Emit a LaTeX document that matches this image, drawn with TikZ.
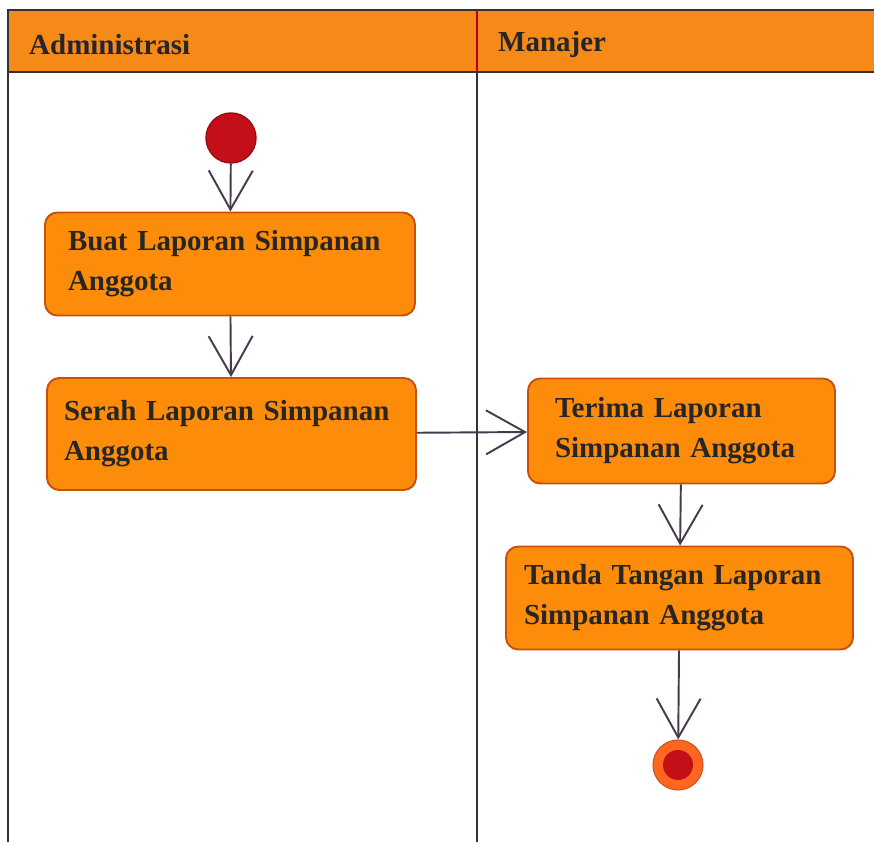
\documentclass[tikz,border=0pt]{standalone}
\usepackage{fontspec}
\setmainfont{Liberation Serif}
\usetikzlibrary{arrows.meta}
\hyphenpenalty=10000
\definecolor{laneorange}{RGB}{246,138,24}
\definecolor{actfill}{RGB}{252,140,10}
\definecolor{actborder}{RGB}{200,80,10}
\definecolor{startred}{RGB}{196,14,24}
\definecolor{endorange}{RGB}{255,102,32}
\definecolor{flowgray}{RGB}{72,58,78}
\begin{document}
\begin{tikzpicture}[
		act/.style={draw=actborder, fill=actfill, line width=1.1pt, rounded corners=7pt,
			align=left, anchor=center, font=\fontsize{16.5}{22.7}\selectfont\bfseries, text=black!85},
		flow/.style={draw=flowgray, line width=1.1pt, -{Straight Barb[length=0.78cm,width=0.88cm]}},
		lanetitle/.style={anchor=west, font=\fontsize{16.5}{20}\selectfont\bfseries, text=black!85}
	]
		\useasboundingbox (0,0) rectangle (17.48,-16.84);
		\clip (0,0) rectangle (17.48,-16.84);
		% swimlanes
		\fill[white] (0.16,-0.2) rectangle (18,-17.5);
		\fill[laneorange] (0.16,-0.2) rectangle (18,-1.44);
		\draw[black!80, line width=0.9pt] (0.16,-0.2) rectangle (18,-17.5);
		\draw[black!80, line width=0.9pt] (0.16,-1.44) -- (18,-1.44);
		\draw[black!80, line width=0.9pt] (9.54,-1.44) -- (9.54,-17.5);
		\draw[red!70!black, line width=0.9pt] (9.54,-0.2) -- (9.54,-1.44);
		\node[lanetitle] (adm) at (0.46,-0.9) {Administrasi};
		\node[lanetitle] (mgr) at (9.84,-0.9) {Manajer};
		% activities
		\node[circle, fill=startred, draw=startred!80!black, line width=0.8pt, minimum size=1cm, inner sep=0pt] (start) at (4.62,-2.76) {};
		\node[act, text width=6.48cm, inner xsep=0.46cm, minimum height=2.06cm] (buat) at (4.6,-5.28) {Buat Laporan Simpanan\\Anggota};
		\node[act, text width=6.7cm, inner xsep=0.34cm, minimum height=2.24cm] (serah) at (4.63,-8.68) {Serah Laporan Simpanan\\Anggota};
		\node[act, text width=5.06cm, inner xsep=0.54cm, minimum height=2.1cm] (terima) at (13.63,-8.62) {Terima Laporan\\Simpanan Anggota};
		\node[act, text width=6.22cm, inner xsep=0.36cm, minimum height=2.06cm] (ttd) at (13.59,-11.96) {Tanda Tangan Laporan\\Simpanan Anggota};
		\node[circle, fill=endorange, draw=endorange!80!black, line width=0.6pt, minimum size=1cm, inner sep=0pt] (end) at (13.56,-15.3) {};
		\fill[startred] (end) circle (0.3);
		% flows
		\draw[flow] (start) -- (buat);
		\draw[flow] (buat) -- (serah);
		\draw[flow] (serah) -- (terima);
		\draw[flow] (terima) -- (ttd);
		\draw[flow] (ttd) -- (end);
	\end{tikzpicture}
\end{document}
